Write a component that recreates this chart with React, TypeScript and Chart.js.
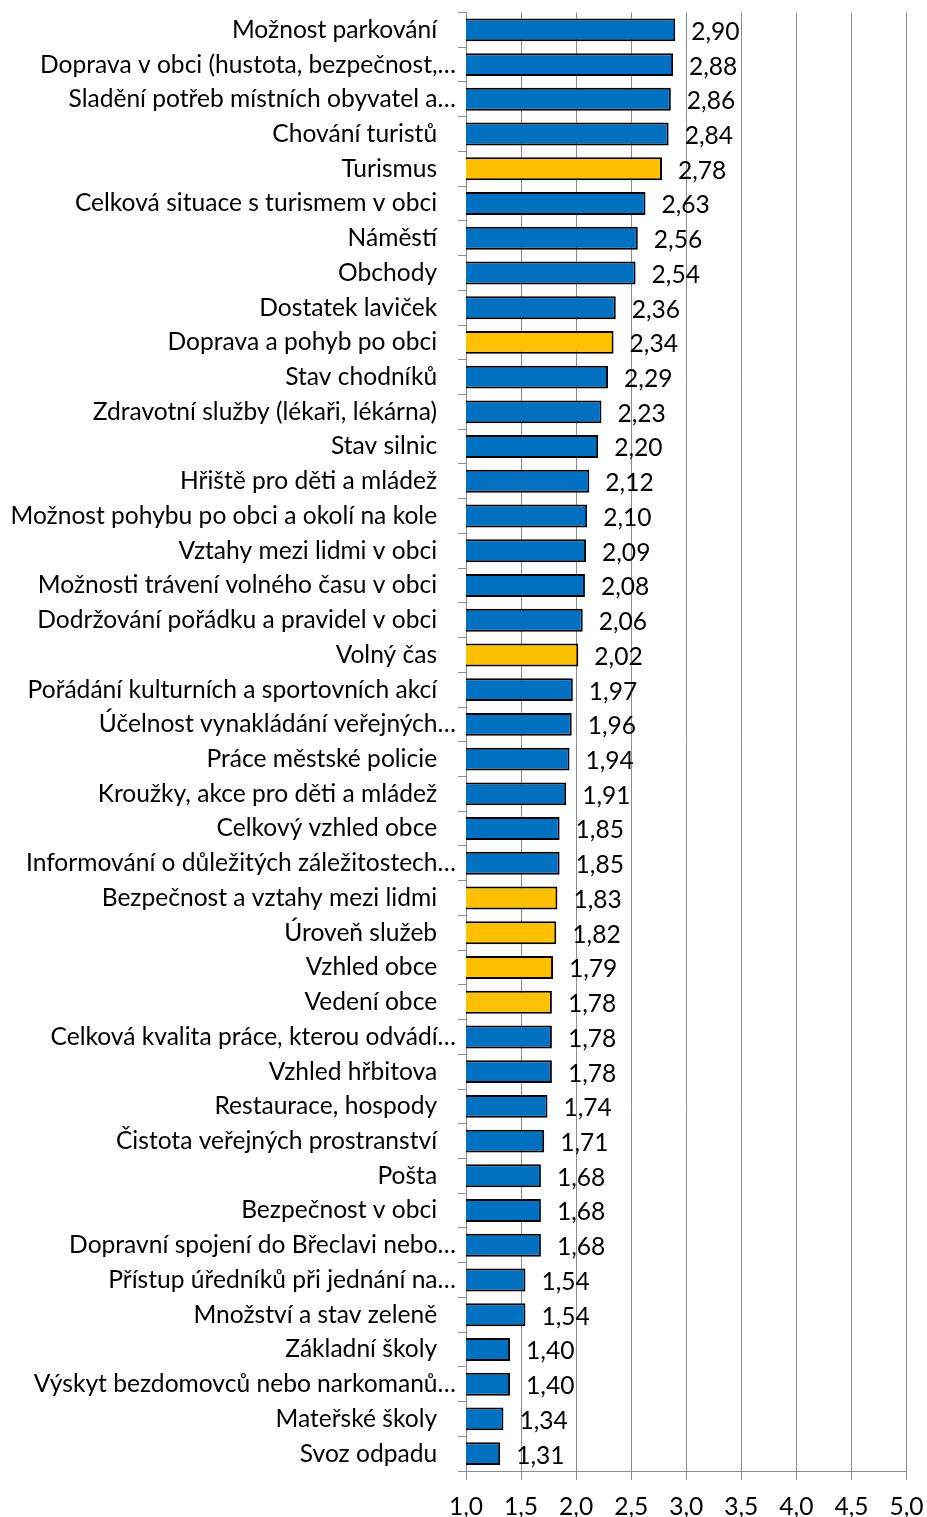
import React, { useEffect, useRef } from 'react';
import { Chart, registerables } from 'chart.js';

Chart.register(...registerables);

const categories: string[] = [
  'Možnost parkování',
  'Doprava v obci (hustota, bezpečnost,…',
  'Sladění potřeb místních obyvatel a…',
  'Chování turistů',
  'Turismus',
  'Celková situace s turismem v obci',
  'Náměstí',
  'Obchody',
  'Dostatek laviček',
  'Doprava a pohyb po obci',
  'Stav chodníků',
  'Zdravotní služby (lékaři, lékárna)',
  'Stav silnic',
  'Hřiště pro děti a mládež',
  'Možnost pohybu po obci a okolí na kole',
  'Vztahy mezi lidmi v obci',
  'Možnosti trávení volného času v obci',
  'Dodržování pořádku a pravidel v obci',
  'Volný čas',
  'Pořádání kulturních a sportovních akcí',
  'Účelnost vynakládání veřejných…',
  'Práce městské policie',
  'Kroužky, akce pro děti a mládež',
  'Celkový vzhled obce',
  'Informování o důležitých záležitostech…',
  'Bezpečnost a vztahy mezi lidmi',
  'Úroveň služeb',
  'Vzhled obce',
  'Vedení obce',
  'Celková kvalita práce, kterou odvádí…',
  'Vzhled hřbitova',
  'Restaurace, hospody',
  'Čistota veřejných prostranství',
  'Pošta',
  'Bezpečnost v obci',
  'Dopravní spojení do Břeclavi nebo…',
  'Přístup úředníků při jednání na…',
  'Množství a stav zeleně',
  'Základní školy',
  'Výskyt bezdomovců nebo narkomanů…',
  'Mateřské školy',
  'Svoz odpadu',
];

const values: number[] = [
  2.9, 2.88, 2.86, 2.84, 2.78, 2.63, 2.56, 2.54, 2.36, 2.34,
  2.29, 2.23, 2.2, 2.12, 2.1, 2.09, 2.08, 2.06, 2.02, 1.97,
  1.96, 1.94, 1.91, 1.85, 1.85, 1.83, 1.82, 1.79, 1.78, 1.78,
  1.78, 1.74, 1.71, 1.68, 1.68, 1.68, 1.54, 1.54, 1.4, 1.4,
  1.34, 1.31,
];

// Summary (category-group) rows shown in yellow
const summaryCategories: string[] = [
  'Turismus',
  'Doprava a pohyb po obci',
  'Volný čas',
  'Bezpečnost a vztahy mezi lidmi',
  'Úroveň služeb',
  'Vzhled obce',
  'Vedení obce',
];

const xMin = 1;
const xMax = 5;
const xStep = 0.5;

const BLUE = '#0070C0';
const YELLOW = '#FFC000';
const GRID = '#8C8C8C';
const FONT_FAMILY = 'Lato, "Open Sans", sans-serif';

const fmt = (v: number, d: number) => v.toFixed(d).replace('.', ',');

export default function App() {
  const ref = useRef<HTMLCanvasElement | null>(null);

  useEffect(() => {
    const canvas = ref.current;
    if (!canvas) return;

    const mctx = document.createElement('canvas').getContext('2d')!;
    mctx.font = `100px ${FONT_FAMILY}`;
    const refW = mctx.measureText('Možnost pohybu po obci a okolí na kole').width;
    const fontSize = (100 * 427) / refW;
    mctx.font = `${fontSize}px ${FONT_FAMILY}`;
    const spaceW = mctx.measureText(' ').width;
    const nSpaces = Math.max(0, Math.round(16.5 / spaceW));
    const pad = ' '.repeat(nSpaces);

    const valueLabels = {
      id: 'valueLabels',
      afterDatasetsDraw(chart: any) {
        const ctx = chart.ctx;
        const meta = chart.getDatasetMeta(0);
        ctx.save();
        ctx.font = `${fontSize}px ${FONT_FAMILY}`;
        ctx.fillStyle = '#000';
        ctx.textAlign = 'left';
        ctx.textBaseline = 'middle';
        meta.data.forEach((el: any, i: number) => {
          ctx.fillText(fmt(values[i], 2), el.x + 16, el.y + 2);
        });
        ctx.restore();
      },
    };

    const chart = new Chart(canvas, {
      type: 'bar',
      data: {
        labels: categories,
        datasets: [
          {
            data: values,
            backgroundColor: categories.map((c) =>
              summaryCategories.includes(c) ? YELLOW : BLUE
            ),
            borderColor: '#000',
            borderWidth: 2,
            borderSkipped: false,
            categoryPercentage: 1,
            barPercentage: 0.66,
          },
        ],
      },
      options: {
        indexAxis: 'y',
        animation: false,
        responsive: false,
        maintainAspectRatio: false,
        layout: { padding: { top: 12.5, right: 20.5, left: 0, bottom: 0 } },
        plugins: {
          legend: { display: false },
          tooltip: { enabled: false },
        },
        scales: {
          x: {
            type: 'linear',
            min: xMin,
            max: xMax,
            afterFit: (s: any) => {
              s.height = 1517 - 1471;
              s.paddingLeft = 0;
              s.paddingRight = 0;
            },
            ticks: {
              stepSize: xStep,
              color: '#000',
              font: { family: FONT_FAMILY, size: fontSize },
              padding: 1507 - 1471 - 9 - fontSize * 0.6,
              maxRotation: 0,
              autoSkip: false,
              callback: (v: any) => fmt(Number(v), 1),
            },
            grid: {
              color: GRID,
              lineWidth: 1,
              tickLength: 9,
              drawOnChartArea: true,
            },
            border: { display: true, color: GRID, width: 1 },
          },
          y: {
            type: 'category',
            afterFit: (s: any) => {
              s.width = 466;
              s.paddingTop = 0;
              s.paddingBottom = 0;
            },
            ticks: {
              color: '#000',
              font: { family: FONT_FAMILY, size: fontSize },
              padding: 2,
              autoSkip: false,
              callback: (_v: any, i: number) => {
                const c = categories[i];
                return c.endsWith('…') ? c : c + pad;
              },
            },
            grid: {
              color: GRID,
              lineWidth: 1,
              tickLength: 8,
              drawOnChartArea: false,
              offset: true,
            },
            border: { display: true, color: GRID, width: 1 },
          },
        },
      },
      plugins: [valueLabels],
    });

    return () => chart.destroy();
  }, []);

  return (
    <div style={{ position: 'absolute', left: 0, top: 0, width: 927, height: 1517, background: '#fff' }}>
      <canvas ref={ref} width={927} height={1517} style={{ display: 'block' }} />
    </div>
  );
}
